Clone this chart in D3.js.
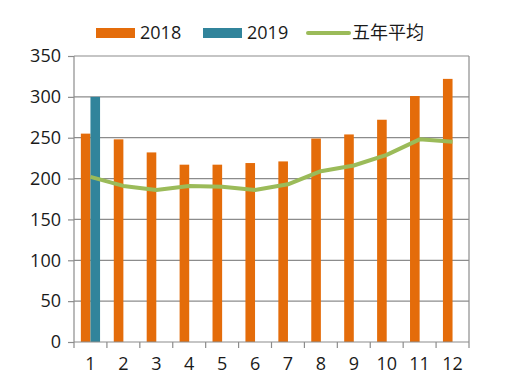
<!DOCTYPE html>
<html><head><meta charset="utf-8">
<script src="https://cdn.jsdelivr.net/npm/d3@7"></script>
<style>body{margin:0;background:#fff}</style>
</head><body>
<svg id="c" width="507" height="391"></svg>
<script>
const months = ["1","2","3","4","5","6","7","8","9","10","11","12"];
const s2018 = [255, 248, 232, 217, 217, 219, 221, 249, 254, 272, 301, 322];
const s2019 = [300, null, null, null, null, null, null, null, null, null, null, null];
const avg5 = [202, 191, 186, 191, 190, 186, 193, 209, 216, 229, 248, 245];
const yTicks = [0, 50, 100, 150, 200, 250, 300, 350];
const legendLabels = ["2018", "2019", "五年平均"];

const colors = {o: "#E46C0A", b: "#31849B", g: "#9BBB59"};
const font = "'Open Sans','Noto Sans CJK SC',sans-serif";
const svg = d3.select("#c");
const L = 74, R = 469, T = 56, B = 342;
const x = d3.scaleBand().domain(months).range([L, R]);
const y = d3.scaleLinear().domain([0, 350]).range([B, T]);
const bw = 9.6;

// grid
svg.append("g").selectAll("line").data(yTicks.filter(d => d > 0)).join("line")
  .attr("x1", L).attr("x2", R).attr("y1", d => y(d)).attr("y2", d => y(d))
  .attr("stroke", "#8c8c8c").attr("stroke-width", 1.2);
// right border
svg.append("line").attr("x1", R).attr("x2", R).attr("y1", T).attr("y2", B)
  .attr("stroke", "#8c8c8c").attr("stroke-width", 1.2);

// bars
svg.append("g").selectAll("rect").data(months).join("rect")
  .attr("x", d => x(d) + x.bandwidth()/2 - bw)
  .attr("width", bw)
  .attr("y", (d,i) => y(s2018[i]))
  .attr("height", (d,i) => B - y(s2018[i]))
  .attr("fill", colors.o);
svg.append("g").selectAll("rect").data(months.filter((d,i) => s2019[i] != null)).join("rect")
  .attr("x", d => x(d) + x.bandwidth()/2)
  .attr("width", bw)
  .attr("y", d => y(s2019[months.indexOf(d)]))
  .attr("height", d => B - y(s2019[months.indexOf(d)]))
  .attr("fill", colors.b);

// line
const line = d3.line().x((d,i) => x(months[i]) + x.bandwidth()/2).y(d => y(d));
svg.append("path").datum(avg5).attr("d", line).attr("fill", "none")
  .attr("stroke", colors.g).attr("stroke-width", 4).attr("stroke-linejoin", "round");

// axes
const yAxis = d3.axisLeft(y).tickValues(yTicks).tickSize(6).tickPadding(7);
const gy = svg.append("g").attr("transform", `translate(${L},0)`).call(yAxis);
gy.select(".domain").attr("stroke", "#8c8c8c").attr("stroke-width", 1.2).attr("d", `M0,${B}V${T}`);
gy.selectAll(".tick line").attr("stroke", "#8c8c8c").attr("stroke-width", 1.2);
gy.selectAll("text").attr("font-family", font).attr("font-size", 18).attr("fill", "#1a1a1a");

const xAxis = d3.axisBottom(x).tickSize(0).tickPadding(15);
const gx = svg.append("g").attr("transform", `translate(0,${B})`).call(xAxis);
gx.select(".domain").attr("stroke", "#8c8c8c").attr("stroke-width", 1.2).attr("d", `M${L},0H${R}`);
gx.selectAll("text").attr("font-family", font).attr("font-size", 18).attr("fill", "#1a1a1a");
// x boundary ticks
const bounds = months.map(m => x(m)).concat([R]);
svg.append("g").selectAll("line").data(bounds).join("line")
  .attr("x1", d => d).attr("x2", d => d).attr("y1", B).attr("y2", B + 6)
  .attr("stroke", "#8c8c8c").attr("stroke-width", 1.2);

// legend
const lg = svg.append("g").attr("font-family", font).attr("font-size", 18).attr("fill", "#1a1a1a");
lg.append("rect").attr("x", 96).attr("y", 28).attr("width", 39).attr("height", 10).attr("fill", colors.o);
lg.append("text").attr("x", 140).attr("y", 39).text(legendLabels[0]);
lg.append("rect").attr("x", 203).attr("y", 28).attr("width", 39).attr("height", 10).attr("fill", colors.b);
lg.append("text").attr("x", 247).attr("y", 39).text(legendLabels[1]);
lg.append("line").attr("x1", 308).attr("x2", 349).attr("y1", 33).attr("y2", 33)
  .attr("stroke", colors.g).attr("stroke-width", 4).attr("stroke-linecap", "round");
lg.append("text").attr("x", 352).attr("y", 39).text(legendLabels[2]);
</script>
</body></html>
